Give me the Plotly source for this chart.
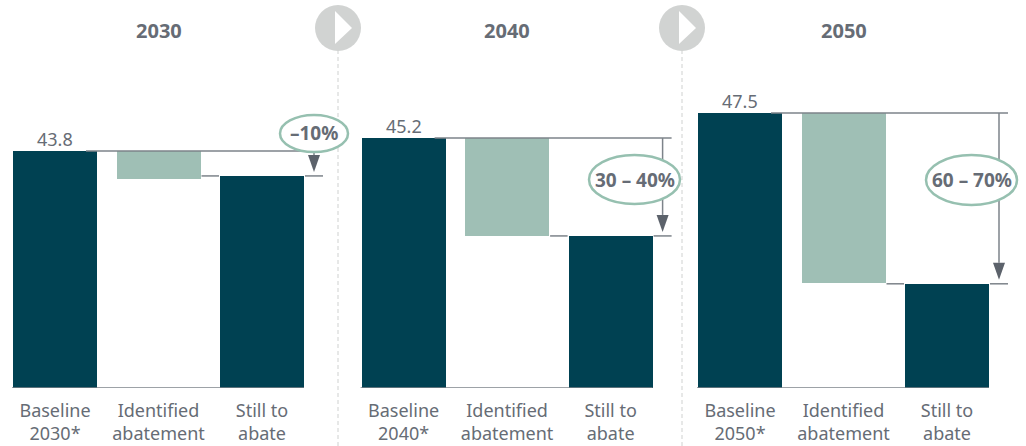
import plotly.graph_objects as go

W, H = 1026, 446
BASE_PX = 388

years = ["2030", "2040", "2050"]
baseline = [43.8, 45.2, 47.5]
identified = [5.2, 17.7, 29.4]
still = [39.2, 27.5, 18.0]
callouts = ["–10%", "30 – 40%", "60 – 70%"]
categories = [
    ["Baseline<br>2030*", "Identified<br>abatement", "Still to<br>abate"],
    ["Baseline<br>2040*", "Identified<br>abatement", "Still to<br>abate"],
    ["Baseline<br>2050*", "Identified<br>abatement", "Still to<br>abate"],
]
# layout (pixels)
panel_edges = [(0, 338), (338, 683), (683, 1026)]
first_bar_left = [13, 361.6, 698]
step = 103.5
bar_px = 84
px_per_unit = [5.41, 5.53, 5.789]
ellipses = [(280, 115, 348, 152), (589, 155, 680, 204), (926, 155, 1017, 205)]
dividers = [338, 682]

NAVY, SAGE, GREY, LINE = "#004152", "#9fbfb5", "#666c75", "#7d838a"
FONT = "Noto Sans"

fig = go.Figure()
annots, shapes = [], []

for i in range(3):
    ax = "" if i == 0 else str(i + 1)
    xname, yname = f"x{ax}", f"y{ax}"
    pl, pr = panel_edges[i]
    c0 = first_bar_left[i] + bar_px / 2
    to_x = lambda p: (p - c0) / step
    bw = bar_px / step
    hw = bw / 2
    b, d, s = baseline[i], identified[i], still[i]
    xs = [0, 1, 2]
    fig.add_trace(go.Bar(x=xs, y=[b, d, s], base=[0, b - d, 0], width=bw,
                         marker=dict(color=[NAVY, SAGE, NAVY], line_width=0),
                         xaxis=xname, yaxis=yname, showlegend=False, hoverinfo="skip"))
    # baseline
    fig.add_trace(go.Scatter(x=[-hw - 1 / step, 2 + hw], y=[0, 0], mode="lines", cliponaxis=False,
                             line=dict(color=LINE, width=1.5), xaxis=xname, yaxis=yname,
                             showlegend=False, hoverinfo="skip"))
    # connectors
    arrow_x = 2 + hw + 10 / step
    end_x = 2 + hw + 19 / step
    conn_x = [hw - 11 / step, end_x, None, 1 + hw + 1 / step, 2 - hw - 1 / step, None, 2 + hw + 1 / step, end_x]
    conn_y = [b, b, None, s, s, None, s, s]
    fig.add_trace(go.Scatter(x=conn_x, y=conn_y, mode="lines", cliponaxis=False,
                             line=dict(color=LINE, width=1.5), xaxis=xname, yaxis=yname,
                             showlegend=False, hoverinfo="skip"))
    # arrow shaft + head
    ppu = px_per_unit[i]
    tip = s + 4 / ppu
    head = 17 / ppu
    hhw = 6 / step
    fig.add_trace(go.Scatter(x=[arrow_x, arrow_x], y=[b, tip + head], mode="lines",
                             line=dict(color=LINE, width=1.5), xaxis=xname, yaxis=yname,
                             showlegend=False, hoverinfo="skip"))
    shapes.append(dict(type="path", xref=xname, yref=yname, fillcolor="#5c626b", line_width=0,
                       path=f"M{arrow_x - hhw},{tip + head} L{arrow_x + hhw},{tip + head} L{arrow_x},{tip} Z"))
    # value label
    annots.append(dict(x=0, y=b, xref=xname, yref=yname, text=f"{b:.1f}", showarrow=False,
                       xanchor="center", yanchor="bottom", yshift=-2,
                       font=dict(size=18, color=GREY, family=FONT)))
    # year title
    annots.append(dict(x=1, y=1 - 31 / H, xref=xname, yref="paper", text=f"<b>{years[i]}</b>",
                       showarrow=False, xanchor="center", yanchor="middle",
                       font=dict(size=20, color=GREY, family=FONT)))
    # callout
    x0, y0, x1, y1 = ellipses[i]
    shapes.append(dict(type="circle", xref="paper", yref="paper", x0=x0 / W, x1=x1 / W,
                       y0=1 - y1 / H, y1=1 - y0 / H, fillcolor="white",
                       line=dict(color="#96c0b0", width=2.5), layer="above"))
    annots.append(dict(x=(x0 + x1) / 2 / W, y=1 - (y0 + y1) / 2 / H, xref="paper", yref="paper",
                       text=f"<b>{callouts[i]}</b>", showarrow=False,
                       xanchor="center", yanchor="middle",
                       font=dict(size=19, color=GREY, family=FONT)))
    xcfg = dict(domain=[pl / W, pr / W], range=[to_x(pl), to_x(pr)],
                tickmode="array", tickvals=xs, ticktext=categories[i], ticks="",
                showline=False, showgrid=False, zeroline=False, ticklabelstandoff=10,
                tickfont=dict(size=18, color=GREY, family=FONT), anchor=yname)
    ycfg = dict(domain=[(H - BASE_PX) / H, 1], range=[0, BASE_PX / ppu],
                visible=False, anchor=xname)
    fig.update_layout({f"xaxis{ax}": xcfg, f"yaxis{ax}": ycfg})

for cx in dividers:
    shapes.append(dict(type="line", xref="paper", yref="paper", x0=cx / W, x1=cx / W,
                       y0=0, y1=1 - 50 / H, line=dict(color="#cfd1d0", width=1, dash="4px,3px"),
                       layer="below"))
    shapes.append(dict(type="circle", xref="paper", yref="paper", x0=(cx - 23) / W, x1=(cx + 23) / W,
                       y0=1 - 51 / H, y1=1 - 5 / H, fillcolor="#d1d3d2", line_width=0))
    shapes.append(dict(type="path", xref="paper", yref="paper", fillcolor="white", line_width=0,
                       path=f"M{(cx - 3) / W},{1 - 11 / H} L{(cx + 14) / W},{1 - 28 / H} L{(cx - 3) / W},{1 - 44 / H} Z"))

fig.update_layout(width=W, height=H, margin=dict(l=0, r=0, t=0, b=0), bargap=0,
                  paper_bgcolor="white", plot_bgcolor="rgba(0,0,0,0)",
                  annotations=annots, shapes=shapes, showlegend=False,
                  font=dict(family=FONT))
fig.write_html("out.html", config={"displayModeBar": False},
               post_script="document.body.style.margin='0';document.body.style.overflow='hidden';")
